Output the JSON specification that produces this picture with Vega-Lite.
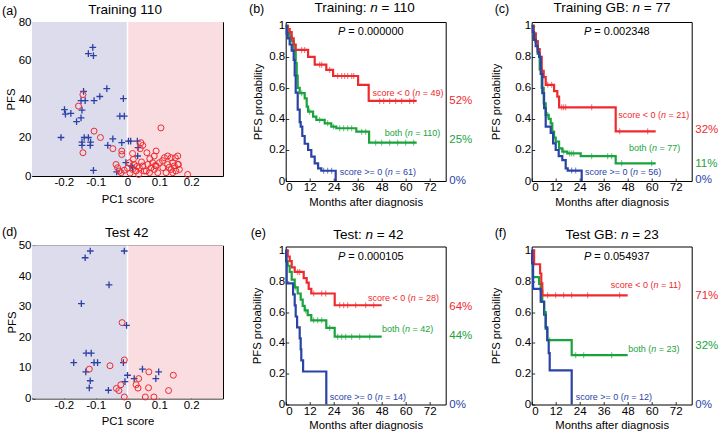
{
"$schema":"https://vega.github.io/schema/vega-lite/v6.json",
"padding":{"left":1,"top":0,"right":0,"bottom":0},
"config":{"font":"Liberation Sans","view":{"stroke":"black","strokeWidth":1},
"axis":{"grid":false,"domain":false,"labelOverlap":false,"labelFontSize":11.5,"titleFontSize":11.3,"labelColor":"black","titleColor":"black","titleFontWeight":"normal","tickColor":"black","tickSize":-3,"tickWidth":0.8,"labelFont":"Liberation Sans","titleFont":"Liberation Sans"},
"axisX":{"titlePadding":3,"labelPadding":3.5},
"axisY":{"labelPadding":4},
"text":{"font":"Liberation Sans","color":"black"}},
"datasets":{
"scA":[
{"x":-0.109,"y":66.8,"g":"p"},{"x":-0.123,"y":63.6,"g":"p"},{"x":-0.107,"y":62.5,"g":"p"},{"x":-0.065,"y":45.4,"g":"p"},{"x":-0.138,"y":44.0,"g":"p"},{"x":-0.146,"y":39.2,"g":"p"},{"x":-0.133,"y":39.2,"g":"p"},{"x":-0.105,"y":39.2,"g":"p"},{"x":-0.087,"y":41.3,"g":"p"},{"x":-0.013,"y":40.2,"g":"p"},{"x":-0.198,"y":34.5,"g":"p"},{"x":-0.195,"y":32.1,"g":"p"},{"x":-0.178,"y":32.5,"g":"p"},{"x":-0.143,"y":34.2,"g":"p"},{"x":-0.146,"y":30.2,"g":"p"},{"x":-0.160,"y":28.2,"g":"p"},{"x":-0.024,"y":31.1,"g":"p"},{"x":-0.010,"y":31.1,"g":"p"},{"x":-0.209,"y":20.0,"g":"p"},{"x":-0.136,"y":20.0,"g":"p"},{"x":-0.123,"y":20.0,"g":"p"},{"x":-0.143,"y":17.6,"g":"p"},{"x":-0.143,"y":15.9,"g":"p"},{"x":-0.116,"y":17.6,"g":"p"},{"x":-0.117,"y":15.9,"g":"p"},{"x":-0.046,"y":19.3,"g":"p"},{"x":-0.062,"y":15.9,"g":"p"},{"x":-0.018,"y":17.3,"g":"p"},{"x":0.003,"y":18.1,"g":"p"},{"x":0.010,"y":18.1,"g":"p"},{"x":0.031,"y":18.1,"g":"p"},{"x":0.033,"y":14.7,"g":"p"},{"x":-0.107,"y":2.9,"g":"p"},{"x":-0.034,"y":2.1,"g":"p"},{"x":-0.005,"y":6.9,"g":"p"},{"x":0.011,"y":5.2,"g":"p"},{"x":0.016,"y":4.3,"g":"p"},{"x":0.032,"y":10.4,"g":"p"},
{"x":-0.140,"y":42.3,"g":"c"},{"x":-0.154,"y":36.3,"g":"c"},{"x":-0.105,"y":23.3,"g":"c"},{"x":-0.085,"y":20.0,"g":"c"},{"x":-0.140,"y":12.1,"g":"c"},{"x":-0.046,"y":14.2,"g":"c"},{"x":0.105,"y":25.0,"g":"c"},{"x":-0.018,"y":13.0,"g":"c"},{"x":-0.018,"y":11.2,"g":"c"},{"x":-0.036,"y":6.0,"g":"c"},{"x":-0.031,"y":4.3,"g":"c"},{"x":-0.026,"y":2.6,"g":"c"},{"x":-0.020,"y":1.7,"g":"c"},{"x":0.0,"y":4.0,"g":"c"},{"x":0.042,"y":17.3,"g":"c"},{"x":0.048,"y":15.9,"g":"c"},{"x":0.040,"y":14.2,"g":"c"},{"x":0.016,"y":11.7,"g":"c"},{"x":0.090,"y":13.0,"g":"c"},{"x":0.084,"y":10.4,"g":"c"},{"x":0.116,"y":9.5,"g":"c"},{"x":0.126,"y":10.4,"g":"c"},{"x":0.137,"y":9.5,"g":"c"},{"x":0.158,"y":10.4,"g":"c"},{"x":0.142,"y":6.9,"g":"c"},{"x":0.158,"y":6.0,"g":"c"},{"x":0.189,"y":0.8,"g":"c"},{"x":0.006,"y":6.9,"g":"c"},{"x":0.021,"y":6.0,"g":"c"},{"x":0.016,"y":3.4,"g":"c"},{"x":0.027,"y":2.6,"g":"c"},{"x":0.037,"y":4.3,"g":"c"},{"x":0.048,"y":5.2,"g":"c"},{"x":0.053,"y":2.6,"g":"c"},{"x":0.064,"y":6.0,"g":"c"},{"x":0.069,"y":1.7,"g":"c"},{"x":0.074,"y":4.3,"g":"c"},{"x":0.079,"y":6.9,"g":"c"},{"x":0.084,"y":3.4,"g":"c"},{"x":0.090,"y":5.2,"g":"c"},{"x":0.095,"y":1.7,"g":"c"},{"x":0.100,"y":6.9,"g":"c"},{"x":0.111,"y":4.3,"g":"c"},{"x":0.121,"y":1.7,"g":"c"},{"x":0.126,"y":6.0,"g":"c"},{"x":0.137,"y":3.4,"g":"c"},{"x":0.142,"y":1.7,"g":"c"},{"x":0.147,"y":5.2,"g":"c"},{"x":0.152,"y":2.6,"g":"c"},{"x":0.160,"y":6.0,"g":"c"},{"x":0.163,"y":3.4,"g":"c"},{"x":0.061,"y":12.1,"g":"c"},{"x":0.044,"y":7.3,"g":"c"},{"x":0.018,"y":8.6,"g":"c"},{"x":0.088,"y":5.5,"g":"c"},{"x":0.059,"y":2.6,"g":"c"},{"x":0.030,"y":5.0,"g":"c"},{"x":0.110,"y":8.0,"g":"c"},{"x":0.131,"y":4.5,"g":"c"},{"x":0.070,"y":9.0,"g":"c"},{"x":0.008,"y":1.5,"g":"c"},{"x":-0.010,"y":3.0,"g":"c"},{"x":0.035,"y":0.8,"g":"c"},{"x":0.150,"y":9.5,"g":"c"}
],
"scD":[
{"x":-0.117,"y":48.2,"g":"p"},{"x":-0.133,"y":46.0,"g":"p"},{"x":-0.010,"y":48.2,"g":"p"},{"x":-0.058,"y":37.1,"g":"p"},{"x":-0.145,"y":31.0,"g":"p"},{"x":-0.003,"y":23.9,"g":"p"},{"x":-0.130,"y":14.8,"g":"p"},{"x":-0.114,"y":14.8,"g":"p"},{"x":-0.169,"y":11.7,"g":"p"},{"x":-0.105,"y":11.7,"g":"p"},{"x":-0.094,"y":11.7,"g":"p"},{"x":-0.013,"y":11.7,"g":"p"},{"x":-0.131,"y":8.7,"g":"p"},{"x":-0.117,"y":5.8,"g":"p"},{"x":-0.120,"y":3.5,"g":"p"},{"x":-0.060,"y":2.7,"g":"p"},{"x":-0.008,"y":5.5,"g":"p"},{"x":0.0,"y":7.6,"g":"p"},{"x":0.021,"y":6.5,"g":"p"},{"x":0.047,"y":9.6,"g":"p"},{"x":0.098,"y":8.7,"g":"p"},{"x":0.089,"y":6.5,"g":"p"},
{"x":-0.017,"y":24.8,"g":"c"},{"x":-0.010,"y":12.6,"g":"c"},{"x":-0.055,"y":10.7,"g":"c"},{"x":-0.120,"y":9.6,"g":"c"},{"x":-0.021,"y":4.5,"g":"c"},{"x":-0.035,"y":3.3,"g":"c"},{"x":-0.027,"y":2.6,"g":"c"},{"x":-0.010,"y":0.5,"g":"c"},{"x":0.035,"y":6.5,"g":"c"},{"x":0.027,"y":4.5,"g":"c"},{"x":0.033,"y":3.4,"g":"c"},{"x":0.067,"y":8.7,"g":"c"},{"x":0.066,"y":3.5,"g":"c"},{"x":0.056,"y":0.5,"g":"c"},{"x":0.083,"y":0.5,"g":"c"},{"x":0.129,"y":2.6,"g":"c"},{"x":0.144,"y":7.6,"g":"c"}
],
"kmB":[
{"t":0,"s":1,"g":"both"},{"t":1,"s":0.96,"g":"both"},{"t":2,"s":0.93,"g":"both"},{"t":3,"s":0.9,"g":"both"},{"t":4,"s":0.84,"g":"both"},{"t":5,"s":0.76,"g":"both"},{"t":5.5,"s":0.68,"g":"both"},{"t":6,"s":0.6,"g":"both"},{"t":7,"s":0.566,"g":"both"},{"t":9.5,"s":0.533,"g":"both"},{"t":10.5,"s":0.48,"g":"both"},{"t":11.2,"s":0.447,"g":"both"},{"t":13.7,"s":0.415,"g":"both"},{"t":15.3,"s":0.394,"g":"both"},{"t":19.5,"s":0.372,"g":"both"},{"t":22.8,"s":0.35,"g":"both"},{"t":25.3,"s":0.34,"g":"both"},{"t":35.3,"s":0.318,"g":"both"},{"t":41.7,"s":0.247,"g":"both"},{"t":65.5,"s":0.247,"g":"both"},
{"t":0,"s":1,"g":"neg"},{"t":1,"s":0.98,"g":"neg"},{"t":2,"s":0.96,"g":"neg"},{"t":3,"s":0.92,"g":"neg"},{"t":4,"s":0.88,"g":"neg"},{"t":5,"s":0.845,"g":"neg"},{"t":11.2,"s":0.8,"g":"neg"},{"t":14.5,"s":0.75,"g":"neg"},{"t":20.3,"s":0.716,"g":"neg"},{"t":23.7,"s":0.677,"g":"neg"},{"t":36.2,"s":0.62,"g":"neg"},{"t":41.5,"s":0.516,"g":"neg"},{"t":65.5,"s":0.516,"g":"neg"},
{"t":0,"s":1,"g":"pos"},{"t":0.5,"s":0.95,"g":"pos"},{"t":1,"s":0.92,"g":"pos"},{"t":2,"s":0.88,"g":"pos"},{"t":3,"s":0.84,"g":"pos"},{"t":4,"s":0.78,"g":"pos"},{"t":4.5,"s":0.68,"g":"pos"},{"t":5,"s":0.57,"g":"pos"},{"t":6,"s":0.46,"g":"pos"},{"t":7,"s":0.38,"g":"pos"},{"t":7.5,"s":0.35,"g":"pos"},{"t":8.3,"s":0.29,"g":"pos"},{"t":9.5,"s":0.24,"g":"pos"},{"t":11.2,"s":0.2,"g":"pos"},{"t":12.8,"s":0.157,"g":"pos"},{"t":14.5,"s":0.114,"g":"pos"},{"t":16.2,"s":0.082,"g":"pos"},{"t":17.8,"s":0.066,"g":"pos"},{"t":25,"s":0,"g":"pos"}
],
"cenB":[
{"t":8,"s":0.845,"g":"neg"},{"t":9.5,"s":0.845,"g":"neg"},{"t":17,"s":0.75,"g":"neg"},{"t":18,"s":0.75,"g":"neg"},{"t":22,"s":0.716,"g":"neg"},{"t":26,"s":0.677,"g":"neg"},{"t":28,"s":0.677,"g":"neg"},{"t":29.5,"s":0.677,"g":"neg"},{"t":31,"s":0.677,"g":"neg"},{"t":33,"s":0.677,"g":"neg"},{"t":34,"s":0.677,"g":"neg"},{"t":47,"s":0.516,"g":"neg"},{"t":49,"s":0.516,"g":"neg"},{"t":52,"s":0.516,"g":"neg"},{"t":55,"s":0.516,"g":"neg"},{"t":58,"s":0.516,"g":"neg"},{"t":62,"s":0.516,"g":"neg"},{"t":64,"s":0.516,"g":"neg"},
{"t":8,"s":0.566,"g":"both"},{"t":12,"s":0.447,"g":"both"},{"t":17,"s":0.394,"g":"both"},{"t":21,"s":0.372,"g":"both"},{"t":24,"s":0.35,"g":"both"},{"t":27,"s":0.34,"g":"both"},{"t":29,"s":0.34,"g":"both"},{"t":31,"s":0.34,"g":"both"},{"t":33,"s":0.34,"g":"both"},{"t":38,"s":0.318,"g":"both"},{"t":40,"s":0.318,"g":"both"},{"t":45,"s":0.247,"g":"both"},{"t":48,"s":0.247,"g":"both"},{"t":52,"s":0.247,"g":"both"},{"t":56,"s":0.247,"g":"both"},{"t":60,"s":0.247,"g":"both"},{"t":64,"s":0.247,"g":"both"},
{"t":19,"s":0.066,"g":"pos"},{"t":21,"s":0.066,"g":"pos"},{"t":23,"s":0.066,"g":"pos"}
],
"annB":[
{"t":64.8,"s":0.565,"g":"neg","pre":"score < 0 (","it":"n","post":"= 49)"},
{"t":61,"s":0.307,"g":"both","pre":"both (","it":"n","post":"= 110)"},
{"t":51,"s":0.059,"g":"pos","pre":"score >= 0 (","it":"n","post":"= 61)"}
],
"pctB":[{"t":81.8,"s":0.516,"g":"neg","label":"52%"},{"t":81.8,"s":0.265,"g":"both","label":"25%"},{"t":81.8,"s":0,"g":"pos","label":"0%"}],
"pB":[{"t":29.8,"s":0.963,"post":"= 0.000000"}],
"tB":[{"t":42.3,"s":1.025,"pre":"Training:","it":"n","post":"= 110"}],
"kmC":[
{"t":0,"s":1,"g":"both"},{"t":1,"s":0.95,"g":"both"},{"t":2,"s":0.9,"g":"both"},{"t":3,"s":0.82,"g":"both"},{"t":4,"s":0.72,"g":"both"},{"t":5,"s":0.6,"g":"both"},{"t":6,"s":0.5,"g":"both"},{"t":7,"s":0.426,"g":"both"},{"t":8.5,"s":0.4,"g":"both"},{"t":9.5,"s":0.372,"g":"both"},{"t":10.3,"s":0.318,"g":"both"},{"t":11.2,"s":0.28,"g":"both"},{"t":12,"s":0.254,"g":"both"},{"t":13.7,"s":0.21,"g":"both"},{"t":15.3,"s":0.19,"g":"both"},{"t":17.8,"s":0.178,"g":"both"},{"t":24.5,"s":0.16,"g":"both"},{"t":42,"s":0.114,"g":"both"},{"t":62,"s":0.114,"g":"both"},
{"t":0,"s":1,"g":"neg"},{"t":1,"s":0.95,"g":"neg"},{"t":2,"s":0.9,"g":"neg"},{"t":3,"s":0.85,"g":"neg"},{"t":4,"s":0.8,"g":"neg"},{"t":5,"s":0.71,"g":"neg"},{"t":6,"s":0.67,"g":"neg"},{"t":7,"s":0.62,"g":"neg"},{"t":11.2,"s":0.58,"g":"neg"},{"t":12.8,"s":0.544,"g":"neg"},{"t":13.7,"s":0.475,"g":"neg"},{"t":42,"s":0.32,"g":"neg"},{"t":62,"s":0.32,"g":"neg"},
{"t":0,"s":1,"g":"pos"},{"t":0.5,"s":0.96,"g":"pos"},{"t":1.2,"s":0.91,"g":"pos"},{"t":2,"s":0.87,"g":"pos"},{"t":3,"s":0.83,"g":"pos"},{"t":3.7,"s":0.8,"g":"pos"},{"t":4.5,"s":0.69,"g":"pos"},{"t":5.3,"s":0.566,"g":"pos"},{"t":6.2,"s":0.47,"g":"pos"},{"t":7,"s":0.35,"g":"pos"},{"t":9.5,"s":0.31,"g":"pos"},{"t":10.7,"s":0.243,"g":"pos"},{"t":12,"s":0.2,"g":"pos"},{"t":13.5,"s":0.16,"g":"pos"},{"t":15.3,"s":0.135,"g":"pos"},{"t":17,"s":0.082,"g":"pos"},{"t":18,"s":0.067,"g":"pos"},{"t":25,"s":0,"g":"pos"}
],
"cenC":[
{"t":8,"s":0.62,"g":"neg"},{"t":10,"s":0.62,"g":"neg"},{"t":15,"s":0.475,"g":"neg"},{"t":16,"s":0.475,"g":"neg"},{"t":17,"s":0.475,"g":"neg"},{"t":30,"s":0.475,"g":"neg"},{"t":44,"s":0.32,"g":"neg"},{"t":58,"s":0.32,"g":"neg"},
{"t":8,"s":0.426,"g":"both"},{"t":16,"s":0.19,"g":"both"},{"t":19,"s":0.178,"g":"both"},{"t":20,"s":0.178,"g":"both"},{"t":21,"s":0.178,"g":"both"},{"t":30,"s":0.16,"g":"both"},{"t":38,"s":0.16,"g":"both"},{"t":40,"s":0.16,"g":"both"},{"t":45,"s":0.114,"g":"both"},{"t":60,"s":0.114,"g":"both"},
{"t":20,"s":0.067,"g":"pos"},{"t":22,"s":0.067,"g":"pos"}
],
"annC":[
{"t":64.7,"s":0.426,"g":"neg","pre":"score < 0 (","it":"n","post":"= 21)"},
{"t":60.2,"s":0.21,"g":"both","pre":"both (","it":"n","post":"= 77)"},
{"t":50.7,"s":0.06,"g":"pos","pre":"score >= 0 (","it":"n","post":"= 56)"}
],
"pctC":[{"t":81.8,"s":0.33,"g":"neg","label":"32%"},{"t":81.8,"s":0.11,"g":"both","label":"11%"},{"t":81.8,"s":0.006,"g":"pos","label":"0%"}],
"pC":[{"t":29.8,"s":0.963,"post":"= 0.002348"}],
"tC":[{"t":50.4,"s":1.025,"pre":"Training GB:","it":"n","post":"= 77"}],
"kmE":[
{"t":0,"s":1,"g":"both"},{"t":0.5,"s":0.93,"g":"both"},{"t":1,"s":0.9,"g":"both"},{"t":2,"s":0.86,"g":"both"},{"t":3,"s":0.81,"g":"both"},{"t":4.5,"s":0.76,"g":"both"},{"t":6,"s":0.72,"g":"both"},{"t":7.5,"s":0.68,"g":"both"},{"t":8.5,"s":0.64,"g":"both"},{"t":9.5,"s":0.61,"g":"both"},{"t":11,"s":0.58,"g":"both"},{"t":12.8,"s":0.546,"g":"both"},{"t":20.3,"s":0.497,"g":"both"},{"t":24.5,"s":0.44,"g":"both"},{"t":48,"s":0.44,"g":"both"},
{"t":0,"s":1,"g":"neg"},{"t":1,"s":0.96,"g":"neg"},{"t":2,"s":0.93,"g":"neg"},{"t":3,"s":0.89,"g":"neg"},{"t":4.5,"s":0.86,"g":"neg"},{"t":9,"s":0.82,"g":"neg"},{"t":10.5,"s":0.79,"g":"neg"},{"t":11.5,"s":0.75,"g":"neg"},{"t":12.8,"s":0.72,"g":"neg"},{"t":24.5,"s":0.644,"g":"neg"},{"t":48,"s":0.644,"g":"neg"},
{"t":0,"s":1,"g":"pos"},{"t":0.2,"s":0.929,"g":"pos"},{"t":0.5,"s":0.786,"g":"pos"},{"t":3.7,"s":0.714,"g":"pos"},{"t":4.5,"s":0.643,"g":"pos"},{"t":5,"s":0.571,"g":"pos"},{"t":5.7,"s":0.5,"g":"pos"},{"t":7,"s":0.429,"g":"pos"},{"t":7.5,"s":0.357,"g":"pos"},{"t":7.8,"s":0.286,"g":"pos"},{"t":8.7,"s":0.214,"g":"pos"},{"t":20.3,"s":0,"g":"pos"}
],
"cenE":[
{"t":6,"s":0.86,"g":"neg"},{"t":7,"s":0.86,"g":"neg"},{"t":14,"s":0.72,"g":"neg"},{"t":18,"s":0.72,"g":"neg"},{"t":20,"s":0.72,"g":"neg"},{"t":27,"s":0.644,"g":"neg"},{"t":29,"s":0.644,"g":"neg"},{"t":31,"s":0.644,"g":"neg"},{"t":35,"s":0.644,"g":"neg"},{"t":40,"s":0.644,"g":"neg"},{"t":44,"s":0.644,"g":"neg"},
{"t":5,"s":0.76,"g":"both"},{"t":10,"s":0.61,"g":"both"},{"t":14,"s":0.546,"g":"both"},{"t":16,"s":0.546,"g":"both"},{"t":18,"s":0.546,"g":"both"},{"t":22,"s":0.497,"g":"both"},{"t":26,"s":0.44,"g":"both"},{"t":28,"s":0.44,"g":"both"},{"t":30,"s":0.44,"g":"both"},{"t":33,"s":0.44,"g":"both"},{"t":37,"s":0.44,"g":"both"},{"t":42,"s":0.44,"g":"both"}
],
"annE":[
{"t":62.5,"s":0.691,"g":"neg","pre":"score < 0 (","it":"n","post":"= 28)"},
{"t":59.7,"s":0.488,"g":"both","pre":"both (","it":"n","post":"= 42)"},
{"t":46,"s":0.05,"g":"pos","pre":"score >= 0 (","it":"n","post":"= 14)"}
],
"pctE":[{"t":81.8,"s":0.63,"g":"neg","label":"64%"},{"t":81.8,"s":0.443,"g":"both","label":"44%"},{"t":81.8,"s":0,"g":"pos","label":"0%"}],
"pE":[{"t":29.8,"s":0.957,"post":"= 0.000105"}],
"tE":[{"t":39.9,"s":1.025,"pre":"Test:","it":"n","post":"= 42"}],
"kmF":[
{"t":0,"s":1,"g":"both"},{"t":0.3,"s":0.913,"g":"both"},{"t":0.6,"s":0.826,"g":"both"},{"t":3.7,"s":0.783,"g":"both"},{"t":4.5,"s":0.739,"g":"both"},{"t":5.3,"s":0.665,"g":"both"},{"t":6.2,"s":0.6,"g":"both"},{"t":7,"s":0.49,"g":"both"},{"t":7.8,"s":0.417,"g":"both"},{"t":20,"s":0.32,"g":"both"},{"t":48,"s":0.32,"g":"both"},
{"t":0,"s":1,"g":"neg"},{"t":1.2,"s":0.91,"g":"neg"},{"t":4.2,"s":0.85,"g":"neg"},{"t":4.8,"s":0.786,"g":"neg"},{"t":5.3,"s":0.708,"g":"neg"},{"t":48,"s":0.708,"g":"neg"},
{"t":0,"s":1,"g":"pos"},{"t":0.2,"s":0.917,"g":"pos"},{"t":0.7,"s":0.75,"g":"pos"},{"t":4.5,"s":0.667,"g":"pos"},{"t":6.2,"s":0.583,"g":"pos"},{"t":7,"s":0.5,"g":"pos"},{"t":7.8,"s":0.417,"g":"pos"},{"t":8.5,"s":0.333,"g":"pos"},{"t":9,"s":0.222,"g":"pos"},{"t":20,"s":0,"g":"pos"}
],
"cenF":[
{"t":8,"s":0.708,"g":"neg"},{"t":12,"s":0.708,"g":"neg"},{"t":16,"s":0.708,"g":"neg"},{"t":20,"s":0.708,"g":"neg"},{"t":28,"s":0.708,"g":"neg"},{"t":44,"s":0.708,"g":"neg"},
{"t":6.5,"s":0.6,"g":"both"},{"t":9,"s":0.417,"g":"both"},{"t":22,"s":0.32,"g":"both"},{"t":26,"s":0.32,"g":"both"},{"t":40,"s":0.32,"g":"both"}
],
"annF":[
{"t":60.9,"s":0.773,"g":"neg","pre":"score < 0 (","it":"n","post":"= 11)"},
{"t":59.8,"s":0.363,"g":"both","pre":"both (","it":"n","post":"= 23)"},
{"t":46,"s":0.05,"g":"pos","pre":"score >= 0 (","it":"n","post":"= 12)"}
],
"pctF":[{"t":81.8,"s":0.702,"g":"neg","label":"71%"},{"t":81.8,"s":0.378,"g":"both","label":"32%"},{"t":81.8,"s":0,"g":"pos","label":"0%"}],
"pF":[{"t":29.8,"s":0.957,"post":"= 0.054937"}],
"tF":[{"t":44.6,"s":1.025,"pre":"Test GB:","it":"n","post":"= 23"}]
},
"spacing":23.7,
"hconcat":[
{"vconcat":[
{"width":191,"height":154,"layer":[
{"data":{"values":[{"a":-0.3,"b":0}]},"mark":{"type":"rect","color":"#dcdcec"},"encoding":{"x":{"field":"a","type":"quantitative","scale":{"domain":[-0.3,0.3],"nice":false},"axis":{"values":[-0.2,-0.1,0,0.1,0.2],"tickCount":20,"labelOverlap":false,"titlePadding":5,"labelExpr":"datum.value == 0 ? '0' : replace(format(datum.value, '.1f'), '\u2212', '-')","title":"PC1 score"}},"x2":{"field":"b"}}},
{"data":{"values":[{"a":0,"b":0.3}]},"mark":{"type":"rect","color":"#f9dde0"},"encoding":{"x":{"field":"a","type":"quantitative"},"x2":{"field":"b"}}},
{"data":{"values":[{"a":0}]},"mark":{"type":"rule","color":"white","strokeWidth":1.5},"encoding":{"x":{"field":"a","type":"quantitative"}}},
{"data":{"name":"scA"},"transform":[{"filter":"datum.g=='p'"}],"mark":{"type":"point","shape":"M-1,0L1,0M0,-1L0,1","filled":false,"color":"#2b40a6","strokeWidth":1.3,"size":45,"opacity":1},"encoding":{"x":{"field":"x","type":"quantitative"},"y":{"field":"y","type":"quantitative","scale":{"domain":[0,80],"nice":false},"axis":{"values":[0,20,40,60,80],"tickCount":20,"labelOverlap":false,"labelExpr":"format(datum.value, 'd')","title":"PFS","titlePadding":2}}}},
{"data":{"name":"scA"},"transform":[{"filter":"datum.g=='c'"}],"mark":{"type":"point","shape":"circle","filled":false,"color":"#f0282d","strokeWidth":1,"size":36,"opacity":1},"encoding":{"x":{"field":"x","type":"quantitative"},"y":{"field":"y","type":"quantitative"}}},
{"data":{"values":[{"lab":"(a)"}]},"mark":{"type":"text","align":"left","baseline":"middle","fontSize":12.5,"dx":-30,"dy":-11.5},"encoding":{"x":{"datum":-0.3},"y":{"datum":80},"text":{"field":"lab"}}},
{"data":{"values":[{"lab":"Training 110"}]},"mark":{"type":"text","align":"left","baseline":"alphabetic","fontSize":13.5,"dy":-8.5},"encoding":{"x":{"datum":-0.123},"y":{"datum":80},"text":{"field":"lab"}}}
]},
{"width":191,"height":153,"layer":[
{"data":{"values":[{"a":-0.3,"b":0}]},"mark":{"type":"rect","color":"#dcdcec"},"encoding":{"x":{"field":"a","type":"quantitative","scale":{"domain":[-0.3,0.3],"nice":false},"axis":{"values":[-0.2,-0.1,0,0.1,0.2],"tickCount":20,"labelOverlap":false,"titlePadding":5,"labelExpr":"datum.value == 0 ? '0' : replace(format(datum.value, '.1f'), '\u2212', '-')","title":"PC1 score"}},"x2":{"field":"b"}}},
{"data":{"values":[{"a":0,"b":0.3}]},"mark":{"type":"rect","color":"#f9dde0"},"encoding":{"x":{"field":"a","type":"quantitative"},"x2":{"field":"b"}}},
{"data":{"values":[{"a":0}]},"mark":{"type":"rule","color":"white","strokeWidth":1.5},"encoding":{"x":{"field":"a","type":"quantitative"}}},
{"data":{"name":"scD"},"transform":[{"filter":"datum.g=='p'"}],"mark":{"type":"point","shape":"M-1,0L1,0M0,-1L0,1","filled":false,"color":"#2b40a6","strokeWidth":1.3,"size":45,"opacity":1},"encoding":{"x":{"field":"x","type":"quantitative"},"y":{"field":"y","type":"quantitative","scale":{"domain":[0,50],"nice":false},"axis":{"values":[0,10,20,30,40,50],"tickCount":20,"labelOverlap":false,"labelExpr":"format(datum.value, 'd')","title":"PFS","titlePadding":1}}}},
{"data":{"name":"scD"},"transform":[{"filter":"datum.g=='c'"}],"mark":{"type":"point","shape":"circle","filled":false,"color":"#f0282d","strokeWidth":1,"size":36,"opacity":1},"encoding":{"x":{"field":"x","type":"quantitative"},"y":{"field":"y","type":"quantitative"}}},
{"data":{"values":[{"lab":"(d)"}]},"mark":{"type":"text","align":"left","baseline":"middle","fontSize":12.5,"dx":-30,"dy":-14},"encoding":{"x":{"datum":-0.3},"y":{"datum":50},"text":{"field":"lab"}}},
{"data":{"values":[{"lab":"Test 42"}]},"mark":{"type":"text","align":"left","baseline":"alphabetic","fontSize":13.5,"dy":-8.6},"encoding":{"x":{"datum":-0.0707},"y":{"datum":50},"text":{"field":"lab"}}}
]}
],"spacing":19.5},
{"spacing":16,"hconcat":[
{"spacing":18.5,"vconcat":[
{"width":160,"height":159,"layer":[
{"data":{"name":"kmB"},"mark":{"type":"line","interpolate":"step-after","strokeWidth":2.2},"encoding":{"x":{"field":"t","type":"quantitative","scale":{"domain":[0,80],"nice":false},"axis":{"values":[0,12,24,36,48,60,72],"tickCount":20,"labelOverlap":false,"labelExpr":"format(datum.value, 'd')","title":"Months after diagnosis"}},"y":{"field":"s","type":"quantitative","scale":{"domain":[0,1.025],"nice":false},"axis":{"values":[0,0.2,0.4,0.6,0.8,1],"tickCount":20,"labelOverlap":false,"labelExpr":"format(datum.value, '~g')","title":"PFS probability","titlePadding":5}},"color":{"field":"g","type":"nominal","scale":{"domain":["neg","both","pos"],"range":["#ee2a2e","#1aa33c","#2a43a6"]},"legend":null}}},
{"data":{"name":"cenB"},"mark":{"type":"tick","orient":"vertical","size":6,"thickness":1},"encoding":{"x":{"field":"t","type":"quantitative"},"y":{"field":"s","type":"quantitative"},"color":{"field":"g","type":"nominal"}}},
{"data":{"name":"annB"},"mark":{"type":"text","align":"right","baseline":"middle","fontSize":9},"encoding":{"x":{"field":"t","type":"quantitative"},"y":{"field":"s","type":"quantitative"},"color":{"field":"g","type":"nominal"},"text":{"field":"pre"}}},
{"data":{"name":"annB"},"mark":{"type":"text","align":"left","baseline":"middle","fontSize":9,"fontStyle":"italic"},"encoding":{"x":{"field":"t","type":"quantitative"},"y":{"field":"s","type":"quantitative"},"color":{"field":"g","type":"nominal"},"text":{"field":"it"}}},
{"data":{"name":"annB"},"mark":{"type":"text","align":"left","baseline":"middle","fontSize":9,"dx":7.5},"encoding":{"x":{"field":"t","type":"quantitative"},"y":{"field":"s","type":"quantitative"},"color":{"field":"g","type":"nominal"},"text":{"field":"post"}}},
{"data":{"name":"pB"},"mark":{"type":"text","align":"right","baseline":"middle","fontSize":11,"fontStyle":"italic"},"encoding":{"x":{"field":"t","type":"quantitative"},"y":{"field":"s","type":"quantitative"},"text":{"value":"P"}}},
{"data":{"name":"pB"},"mark":{"type":"text","align":"left","baseline":"middle","fontSize":11,"dx":3},"encoding":{"x":{"field":"t","type":"quantitative"},"y":{"field":"s","type":"quantitative"},"text":{"field":"post"}}},
{"data":{"name":"pctB"},"mark":{"type":"text","align":"left","baseline":"middle","fontSize":11.5},"encoding":{"x":{"field":"t","type":"quantitative"},"y":{"field":"s","type":"quantitative"},"color":{"field":"g","type":"nominal"},"text":{"field":"label"}}},
{"data":{"values":[{"lab":"(b)"}]},"mark":{"type":"text","align":"left","baseline":"middle","fontSize":12.5,"dx":-36.7,"dy":-13},"encoding":{"x":{"datum":0},"y":{"datum":1.025},"text":{"field":"lab"}}},
{"data":{"name":"tB"},"mark":{"type":"text","align":"right","baseline":"alphabetic","fontSize":13.5,"dx":-3.7,"dy":-10.2},"encoding":{"x":{"field":"t","type":"quantitative"},"y":{"field":"s","type":"quantitative"},"text":{"field":"pre"}}},
{"data":{"name":"tB"},"mark":{"type":"text","align":"left","baseline":"alphabetic","fontSize":13.5,"fontStyle":"italic","dy":-10.2},"encoding":{"x":{"field":"t","type":"quantitative"},"y":{"field":"s","type":"quantitative"},"text":{"field":"it"}}},
{"data":{"name":"tB"},"mark":{"type":"text","align":"left","baseline":"alphabetic","fontSize":13.5,"dx":11.3,"dy":-10.2},"encoding":{"x":{"field":"t","type":"quantitative"},"y":{"field":"s","type":"quantitative"},"text":{"field":"post"}}}
]},
{"width":160,"height":158,"layer":[
{"data":{"name":"kmE"},"mark":{"type":"line","interpolate":"step-after","strokeWidth":2.2},"encoding":{"x":{"field":"t","type":"quantitative","scale":{"domain":[0,80],"nice":false},"axis":{"values":[0,12,24,36,48,60,72],"tickCount":20,"labelOverlap":false,"labelExpr":"format(datum.value, 'd')","title":"Months after diagnosis"}},"y":{"field":"s","type":"quantitative","scale":{"domain":[0,1.025],"nice":false},"axis":{"values":[0,0.2,0.4,0.6,0.8,1],"tickCount":20,"labelOverlap":false,"labelExpr":"format(datum.value, '~g')","title":"PFS probability","titlePadding":6}},"color":{"field":"g","type":"nominal","scale":{"domain":["neg","both","pos"],"range":["#ee2a2e","#1aa33c","#2a43a6"]},"legend":null}}},
{"data":{"name":"cenE"},"mark":{"type":"tick","orient":"vertical","size":6,"thickness":1},"encoding":{"x":{"field":"t","type":"quantitative"},"y":{"field":"s","type":"quantitative"},"color":{"field":"g","type":"nominal"}}},
{"data":{"name":"annE"},"mark":{"type":"text","align":"right","baseline":"middle","fontSize":9},"encoding":{"x":{"field":"t","type":"quantitative"},"y":{"field":"s","type":"quantitative"},"color":{"field":"g","type":"nominal"},"text":{"field":"pre"}}},
{"data":{"name":"annE"},"mark":{"type":"text","align":"left","baseline":"middle","fontSize":9,"fontStyle":"italic"},"encoding":{"x":{"field":"t","type":"quantitative"},"y":{"field":"s","type":"quantitative"},"color":{"field":"g","type":"nominal"},"text":{"field":"it"}}},
{"data":{"name":"annE"},"mark":{"type":"text","align":"left","baseline":"middle","fontSize":9,"dx":7.5},"encoding":{"x":{"field":"t","type":"quantitative"},"y":{"field":"s","type":"quantitative"},"color":{"field":"g","type":"nominal"},"text":{"field":"post"}}},
{"data":{"name":"pE"},"mark":{"type":"text","align":"right","baseline":"middle","fontSize":11,"fontStyle":"italic"},"encoding":{"x":{"field":"t","type":"quantitative"},"y":{"field":"s","type":"quantitative"},"text":{"value":"P"}}},
{"data":{"name":"pE"},"mark":{"type":"text","align":"left","baseline":"middle","fontSize":11,"dx":3},"encoding":{"x":{"field":"t","type":"quantitative"},"y":{"field":"s","type":"quantitative"},"text":{"field":"post"}}},
{"data":{"name":"pctE"},"mark":{"type":"text","align":"left","baseline":"middle","fontSize":11.5},"encoding":{"x":{"field":"t","type":"quantitative"},"y":{"field":"s","type":"quantitative"},"color":{"field":"g","type":"nominal"},"text":{"field":"label"}}},
{"data":{"values":[{"lab":"(e)"}]},"mark":{"type":"text","align":"left","baseline":"middle","fontSize":12.5,"dx":-35,"dy":-13.3},"encoding":{"x":{"datum":0},"y":{"datum":1.025},"text":{"field":"lab"}}},
{"data":{"name":"tE"},"mark":{"type":"text","align":"right","baseline":"alphabetic","fontSize":13.5,"dx":-3.7,"dy":-7.6},"encoding":{"x":{"field":"t","type":"quantitative"},"y":{"field":"s","type":"quantitative"},"text":{"field":"pre"}}},
{"data":{"name":"tE"},"mark":{"type":"text","align":"left","baseline":"alphabetic","fontSize":13.5,"fontStyle":"italic","dy":-7.6},"encoding":{"x":{"field":"t","type":"quantitative"},"y":{"field":"s","type":"quantitative"},"text":{"field":"it"}}},
{"data":{"name":"tE"},"mark":{"type":"text","align":"left","baseline":"alphabetic","fontSize":13.5,"dx":11.3,"dy":-7.6},"encoding":{"x":{"field":"t","type":"quantitative"},"y":{"field":"s","type":"quantitative"},"text":{"field":"post"}}}
]}
]},
{"spacing":18.5,"vconcat":[
{"width":160,"height":159,"layer":[
{"data":{"name":"kmC"},"mark":{"type":"line","interpolate":"step-after","strokeWidth":2.2},"encoding":{"x":{"field":"t","type":"quantitative","scale":{"domain":[0,80],"nice":false},"axis":{"values":[0,12,24,36,48,60,72],"tickCount":20,"labelOverlap":false,"labelExpr":"format(datum.value, 'd')","title":"Months after diagnosis"}},"y":{"field":"s","type":"quantitative","scale":{"domain":[0,1.025],"nice":false},"axis":{"values":[0,0.2,0.4,0.6,0.8,1],"tickCount":20,"labelOverlap":false,"labelExpr":"format(datum.value, '~g')","title":"PFS probability","titlePadding":13}},"color":{"field":"g","type":"nominal","scale":{"domain":["neg","both","pos"],"range":["#ee2a2e","#1aa33c","#2a43a6"]},"legend":null}}},
{"data":{"name":"cenC"},"mark":{"type":"tick","orient":"vertical","size":6,"thickness":1},"encoding":{"x":{"field":"t","type":"quantitative"},"y":{"field":"s","type":"quantitative"},"color":{"field":"g","type":"nominal"}}},
{"data":{"name":"annC"},"mark":{"type":"text","align":"right","baseline":"middle","fontSize":9},"encoding":{"x":{"field":"t","type":"quantitative"},"y":{"field":"s","type":"quantitative"},"color":{"field":"g","type":"nominal"},"text":{"field":"pre"}}},
{"data":{"name":"annC"},"mark":{"type":"text","align":"left","baseline":"middle","fontSize":9,"fontStyle":"italic"},"encoding":{"x":{"field":"t","type":"quantitative"},"y":{"field":"s","type":"quantitative"},"color":{"field":"g","type":"nominal"},"text":{"field":"it"}}},
{"data":{"name":"annC"},"mark":{"type":"text","align":"left","baseline":"middle","fontSize":9,"dx":7.5},"encoding":{"x":{"field":"t","type":"quantitative"},"y":{"field":"s","type":"quantitative"},"color":{"field":"g","type":"nominal"},"text":{"field":"post"}}},
{"data":{"name":"pC"},"mark":{"type":"text","align":"right","baseline":"middle","fontSize":11,"fontStyle":"italic"},"encoding":{"x":{"field":"t","type":"quantitative"},"y":{"field":"s","type":"quantitative"},"text":{"value":"P"}}},
{"data":{"name":"pC"},"mark":{"type":"text","align":"left","baseline":"middle","fontSize":11,"dx":3},"encoding":{"x":{"field":"t","type":"quantitative"},"y":{"field":"s","type":"quantitative"},"text":{"field":"post"}}},
{"data":{"name":"pctC"},"mark":{"type":"text","align":"left","baseline":"middle","fontSize":11.5},"encoding":{"x":{"field":"t","type":"quantitative"},"y":{"field":"s","type":"quantitative"},"color":{"field":"g","type":"nominal"},"text":{"field":"label"}}},
{"data":{"values":[{"lab":"(c)"}]},"mark":{"type":"text","align":"left","baseline":"middle","fontSize":12.5,"dx":-37,"dy":-13},"encoding":{"x":{"datum":0},"y":{"datum":1.025},"text":{"field":"lab"}}},
{"data":{"name":"tC"},"mark":{"type":"text","align":"right","baseline":"alphabetic","fontSize":13.5,"dx":-3.7,"dy":-10.2},"encoding":{"x":{"field":"t","type":"quantitative"},"y":{"field":"s","type":"quantitative"},"text":{"field":"pre"}}},
{"data":{"name":"tC"},"mark":{"type":"text","align":"left","baseline":"alphabetic","fontSize":13.5,"fontStyle":"italic","dy":-10.2},"encoding":{"x":{"field":"t","type":"quantitative"},"y":{"field":"s","type":"quantitative"},"text":{"field":"it"}}},
{"data":{"name":"tC"},"mark":{"type":"text","align":"left","baseline":"alphabetic","fontSize":13.5,"dx":11.3,"dy":-10.2},"encoding":{"x":{"field":"t","type":"quantitative"},"y":{"field":"s","type":"quantitative"},"text":{"field":"post"}}}
]},
{"width":160,"height":158,"layer":[
{"data":{"name":"kmF"},"mark":{"type":"line","interpolate":"step-after","strokeWidth":2.2},"encoding":{"x":{"field":"t","type":"quantitative","scale":{"domain":[0,80],"nice":false},"axis":{"values":[0,12,24,36,48,60,72],"tickCount":20,"labelOverlap":false,"labelExpr":"format(datum.value, 'd')","title":"Months after diagnosis"}},"y":{"field":"s","type":"quantitative","scale":{"domain":[0,1.025],"nice":false},"axis":{"values":[0,0.2,0.4,0.6,0.8,1],"tickCount":20,"labelOverlap":false,"labelExpr":"format(datum.value, '~g')","title":"PFS probability","titlePadding":13}},"color":{"field":"g","type":"nominal","scale":{"domain":["neg","both","pos"],"range":["#ee2a2e","#1aa33c","#2a43a6"]},"legend":null}}},
{"data":{"name":"cenF"},"mark":{"type":"tick","orient":"vertical","size":6,"thickness":1},"encoding":{"x":{"field":"t","type":"quantitative"},"y":{"field":"s","type":"quantitative"},"color":{"field":"g","type":"nominal"}}},
{"data":{"name":"annF"},"mark":{"type":"text","align":"right","baseline":"middle","fontSize":9},"encoding":{"x":{"field":"t","type":"quantitative"},"y":{"field":"s","type":"quantitative"},"color":{"field":"g","type":"nominal"},"text":{"field":"pre"}}},
{"data":{"name":"annF"},"mark":{"type":"text","align":"left","baseline":"middle","fontSize":9,"fontStyle":"italic"},"encoding":{"x":{"field":"t","type":"quantitative"},"y":{"field":"s","type":"quantitative"},"color":{"field":"g","type":"nominal"},"text":{"field":"it"}}},
{"data":{"name":"annF"},"mark":{"type":"text","align":"left","baseline":"middle","fontSize":9,"dx":7.5},"encoding":{"x":{"field":"t","type":"quantitative"},"y":{"field":"s","type":"quantitative"},"color":{"field":"g","type":"nominal"},"text":{"field":"post"}}},
{"data":{"name":"pF"},"mark":{"type":"text","align":"right","baseline":"middle","fontSize":11,"fontStyle":"italic"},"encoding":{"x":{"field":"t","type":"quantitative"},"y":{"field":"s","type":"quantitative"},"text":{"value":"P"}}},
{"data":{"name":"pF"},"mark":{"type":"text","align":"left","baseline":"middle","fontSize":11,"dx":3},"encoding":{"x":{"field":"t","type":"quantitative"},"y":{"field":"s","type":"quantitative"},"text":{"field":"post"}}},
{"data":{"name":"pctF"},"mark":{"type":"text","align":"left","baseline":"middle","fontSize":11.5},"encoding":{"x":{"field":"t","type":"quantitative"},"y":{"field":"s","type":"quantitative"},"color":{"field":"g","type":"nominal"},"text":{"field":"label"}}},
{"data":{"values":[{"lab":"(f)"}]},"mark":{"type":"text","align":"left","baseline":"middle","fontSize":12.5,"dx":-37,"dy":-13.3},"encoding":{"x":{"datum":0},"y":{"datum":1.025},"text":{"field":"lab"}}},
{"data":{"name":"tF"},"mark":{"type":"text","align":"right","baseline":"alphabetic","fontSize":13.5,"dx":-3.7,"dy":-7.6},"encoding":{"x":{"field":"t","type":"quantitative"},"y":{"field":"s","type":"quantitative"},"text":{"field":"pre"}}},
{"data":{"name":"tF"},"mark":{"type":"text","align":"left","baseline":"alphabetic","fontSize":13.5,"fontStyle":"italic","dy":-7.6},"encoding":{"x":{"field":"t","type":"quantitative"},"y":{"field":"s","type":"quantitative"},"text":{"field":"it"}}},
{"data":{"name":"tF"},"mark":{"type":"text","align":"left","baseline":"alphabetic","fontSize":13.5,"dx":11.3,"dy":-7.6},"encoding":{"x":{"field":"t","type":"quantitative"},"y":{"field":"s","type":"quantitative"},"text":{"field":"post"}}}
]}
]}
]}
]
}
